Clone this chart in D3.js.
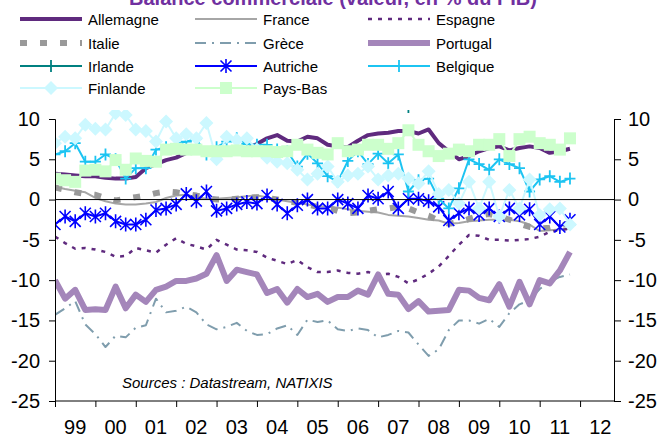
<!DOCTYPE html>
<html>
<head>
<meta charset="utf-8">
<script src="https://cdnjs.cloudflare.com/ajax/libs/d3/7.8.5/d3.min.js"></script>
<style>
  body { margin: 0; background: #fff; }
  svg { display: block; font-family: Arial, "Liberation Sans", sans-serif; }
</style>
</head>
<body>
<script>

// Data: quarterly trade balance, % of GDP, 1999Q1 - 2011Q4
// ==============================================

var firstYear = 1999;
var yearLabels = ["99","00","01","02","03","04","05","06","07","08","09","10","11","12"];
var yTicks = [-25,-20,-15,-10,-5,0,5,10];

var allemagne = [3.2,3.1,3.0,2.9, 2.9,2.7,2.6,2.6, 2.8,3.9,4.4,4.9, 5.2,5.8,6.0,6.2, 5.8,5.6,5.9,6.3, 6.9,7.6,8.0,7.3, 7.2,7.8,7.6,6.8, 6.6,6.5,7.3,8.0, 8.2,8.3,8.5,8.5, 8.2,8.7,7.0,6.0, 5.0,5.4,6.0,6.4, 6.6,6.1,6.4,6.6, 6.4,5.8,6.0,6.3];
var france = [1.6,1.3,1.1,0.9, 0.2,-0.2,-0.5,-0.6, -0.6,-0.5,-0.3,0.2, 0.5,0.6,0.3,0.1, 0.1,0.2,0.3,0.4, 0.5,0.3,0.0,-0.2, -0.4,-0.6,-0.8,-0.9, -1.0,-1.2,-1.4,-1.5, -1.6,-1.9,-2.0,-2.1, -2.3,-2.5,-2.6,-3.0, -2.9,-2.7,-2.6,-2.5, -2.5,-2.5,-2.7,-3.1, -3.9,-3.8,-3.7,-3.6];
var espagne = [-4.6,-5.4,-6.1,-6.0, -6.2,-6.5,-7.1,-7.0, -6.0,-6.3,-6.6,-5.6, -4.8,-5.5,-5.8,-6.2, -5.0,-5.6,-6.2,-6.3, -6.5,-7.2,-7.6,-8.0, -7.5,-8.4,-9.0,-9.0, -8.8,-9.1,-9.2,-9.0, -9.3,-9.2,-9.6,-10.4, -9.9,-9.2,-8.3,-7.0, -5.6,-4.4,-4.5,-5.0, -5.0,-5.1,-5.0,-4.9, -4.6,-4.0,-3.8,-3.6];
var italie = [1.5,1.2,0.9,0.7, 0.6,0.2,-0.1,0.1, 0.3,0.5,0.8,1.0, 0.9,0.7,0.5,0.2, 0.0,0.0,0.1,0.2, 0.3,0.2,0.0,-0.2, -0.4,-0.6,-0.9,-1.0, -1.4,-1.7,-1.6,-1.4, -1.2,-1.1,-0.9,-1.1, -1.6,-2.0,-2.6,-3.0, -2.8,-2.4,-2.0,-1.8, -2.1,-2.5,-3.0,-3.4, -3.6,-3.5,-3.2,-3.0];
var grece = [-14.3,-13.5,-12.6,-15.5, -16.7,-18.3,-16.9,-17.1, -15.9,-15.6,-12.3,-14.0, -13.8,-13.3,-14.0,-15.5, -16.1,-15.8,-15.3,-16.3, -16.8,-16.7,-16.0,-15.6, -16.8,-14.9,-15.2,-15.0, -16.1,-16.3,-16.0,-16.2, -17.1,-16.8,-16.3,-16.5, -18.0,-19.4,-18.6,-16.2, -15.0,-15.0,-15.4,-14.8, -15.8,-14.1,-13.0,-12.5, -11.1,-10.2,-9.6,-9.3];
var portugal = [-10.0,-12.3,-11.2,-13.7, -13.6,-13.7,-10.8,-13.5, -11.8,-12.7,-11.2,-10.8, -10.1,-10.1,-9.8,-9.2, -6.9,-10.1,-8.7,-9.0, -9.3,-11.6,-11.1,-12.8, -11.1,-12.1,-11.7,-12.7, -12.1,-12.1,-11.3,-11.8, -9.3,-11.7,-11.8,-13.6, -12.6,-13.9,-13.8,-13.7, -11.2,-11.3,-12.2,-12.5, -10.5,-13.3,-10.2,-13.0, -10.0,-10.4,-8.8,-6.5];
var irlande = [22,23,24,22, 21,23,24,25, 24,25,26,24, 23,22,21,20, 19,18,18,17, 17,16,16,15, 15,14,14,13, 13,13,12,12, 12,12,12.5,11.5, 12.5,13,14,15, 17,18,19,20, 20,21,22,22, 23,22,23,23];
var autriche = [-3.1,-2.1,-2.7,-1.7, -2.1,-1.7,-2.7,-3.1, -3.1,-2.5,-1.3,-1.1, -0.6,0.7,-0.2,1.0, -1.4,-1.1,-0.6,-0.3, -0.5,0.5,-0.6,-1.7, -0.7,0.0,-1.1,-1.1, 0.0,-0.5,-1.1,0.5, 0.1,1.0,-1.1,0.1, 0.1,-0.2,-0.9,-2.6, -1.7,-1.1,-1.9,-1.1, -2.1,-1.1,-1.9,-1.2, -3.1,-2.1,-3.4,-2.5];
var belgique = [5.6,6.0,7.0,4.7, 4.7,5.6,5.0,2.6, 3.9,3.9,6.2,6.5, 6.9,7.2,7.5,5.6, 6.5,7.2,7.6,6.9, 6.8,6.8,6.2,6.0, 4.1,5.7,4.5,2.9, 2.2,4.8,6.0,4.4, 5.7,4.5,5.6,1.0, 2.4,2.6,0.1,-1.1, 1.4,5.0,4.4,3.7, 5.0,4.4,3.9,1.0, 2.5,2.9,2.2,2.6];
var finlande = [7.0,7.8,7.6,9.3, 8.8,8.7,10.7,10.5, 8.7,8.5,7.2,9.7, 7.6,8.1,7.6,9.5, 5.0,7.8,7.4,7.6, 6.2,5.2,4.7,4.5, 3.7,2.5,3.2,4.1, 2.2,3.0,3.2,4.1, 2.5,3.0,3.2,2.6, 2.0,3.5,0.7,1.2, -0.5,2.2,-1.1,2.2, -2.1,1.2,-1.1,2.5, -1.9,-1.2,-1.1,-3.1];
var paysBas = [2.6,2.4,2.2,3.6, 3.7,3.5,4.9,3.7, 5.1,4.8,4.7,6.2, 6.3,6.2,6.2,6.0, 6.0,6.0,6.1,6.0, 6.0,6.0,5.9,6.0, 6.8,6.2,5.8,5.6, 7.0,6.0,6.2,6.8, 6.8,6.3,7.0,8.6, 6.8,6.0,5.4,5.7, 6.2,6.0,6.8,6.8, 7.5,5.4,7.5,7.8, 7.0,6.8,6.2,7.6];

// Series styles
// ==============================================

var series = [
	{ name: "Allemagne", values: allemagne, color: "#5F2A7E", width: 4 },
	{ name: "France",    values: france,    color: "#A6A6A6", width: 2 },
	{ name: "Espagne",   values: espagne,   color: "#5F2A7E", width: 2.5, dash: "4,6" },
	{ name: "Italie",    values: italie,    color: "#999999", width: 6, dash: "7,13" },
	{ name: "Grèce",     values: grece,     color: "#7F9DAD", width: 2, dash: "11,6,2,6" },
	{ name: "Portugal",  values: portugal,  color: "#A486BA", width: 6 },
	{ name: "Irlande",   values: irlande,   color: "#008080", width: 2, marker: "plus" },
	{ name: "Autriche",  values: autriche,  color: "#0000FF", width: 2, marker: "star" },
	{ name: "Belgique",  values: belgique,  color: "#1CC4F2", width: 2, marker: "plus" },
	{ name: "Finlande",  values: finlande,  color: "#CCF8FF", width: 2, marker: "diamond" },
	{ name: "Pays-Bas",  values: paysBas,   color: "#CCFFCC", width: 2, marker: "square" }
];

(function(){

	var width = 664, height = 439;
	var plotLeft = 55, plotRight = 614, plotTop = 119, plotBottom = 401, clipTop = 110;

	var svg = d3.select("body").append("svg")
		.attr("width", width)
		.attr("height", height);

	var x = d3.scaleLinear().domain([firstYear, 2012.84]).range([plotLeft, plotRight]);
	var y = d3.scaleLinear().domain([-25, 10]).range([plotBottom, plotTop]);

	function t(i){ return firstYear + i * 0.25; }

	// Title (cut at the top, as in the source)
	// ==============================================

	svg.append("text")
		.attr("x", 333).attr("y", 5)
		.attr("text-anchor", "middle")
		.attr("font-size", 20).attr("font-weight", "bold")
		.attr("fill", "#7030A0")
		.text("Balance commerciale (valeur, en % du PIB)");

	// Markers
	// ==============================================

	function drawMarker(g, type, color){
		if (type === "plus") {
			g.append("path").attr("d", "M-5.5,0H5.5M0,-6V6")
				.attr("stroke", color).attr("stroke-width", 1.8).attr("fill", "none");
		} else if (type === "star") {
			g.append("path").attr("d", "M-5.5,-5.5L5.5,5.5M-5.5,5.5L5.5,-5.5M0,-7V7")
				.attr("stroke", color).attr("stroke-width", 1.6).attr("fill", "none");
		} else if (type === "diamond") {
			g.append("path").attr("d", "M0,-7L7,0L0,7L-7,0Z").attr("fill", color);
		} else if (type === "square") {
			g.append("rect").attr("x", -6).attr("y", -6).attr("width", 12).attr("height", 12)
				.attr("fill", color);
		}
	}

	// Plot
	// ==============================================

	svg.append("clipPath").attr("id", "plot-clip")
		.append("rect")
		.attr("x", plotLeft).attr("y", clipTop)
		.attr("width", plotRight - plotLeft).attr("height", plotBottom - clipTop);

	var plot = svg.append("g").attr("clip-path", "url(#plot-clip)");

	var line = d3.line()
		.x(function(d, i){ return x(t(i)); })
		.y(function(d){ return y(d); });

	series.forEach(function(s){
		var g = plot.append("g");
		g.append("path")
			.attr("d", line(s.values))
			.attr("fill", "none")
			.attr("stroke", s.color)
			.attr("stroke-width", s.width)
			.attr("stroke-dasharray", s.dash || null)
			.attr("stroke-linejoin", "round");
		if (s.marker) {
			s.values.forEach(function(v, i){
				var m = g.append("g").attr("transform", "translate(" + x(t(i)) + "," + y(v) + ")");
				drawMarker(m, s.marker, s.color);
			});
		}
	});

	// Axes
	// ==============================================

	svg.append("line")
		.attr("x1", plotLeft).attr("x2", plotRight)
		.attr("y1", y(0)).attr("y2", y(0))
		.attr("stroke", "#000").attr("stroke-width", 1);

	var plain = function(d){ return String(d); };
	var leftAxis = d3.axisLeft(y).tickValues(yTicks).tickSize(6).tickPadding(9).tickFormat(plain);
	var rightAxis = d3.axisRight(y).tickValues(yTicks).tickSize(7).tickPadding(7).tickFormat(plain);
	var years = d3.range(firstYear, firstYear + yearLabels.length);
	var bottomAxis = d3.axisBottom(x).tickValues(years).tickSize(6).tickFormat("");

	function styleAxis(g){
		g.select(".domain").attr("stroke", "#000");
		g.selectAll(".tick line").attr("stroke", "#000");
		g.selectAll(".tick text").attr("font-size", 20).attr("fill", "#000")
			.attr("font-family", "Arial, 'Liberation Sans', sans-serif");
	}

	svg.append("g").attr("transform", "translate(" + plotLeft + ",0)").call(leftAxis).call(styleAxis);
	svg.append("g").attr("transform", "translate(" + plotRight + ",0)").call(rightAxis).call(styleAxis);
	svg.append("g").attr("transform", "translate(0," + plotBottom + ")").call(bottomAxis).call(styleAxis)
		.select(".domain").attr("d", "M" + plotLeft + ",0H" + plotRight);

	// year labels sit between the ticks
	svg.append("g").selectAll("text")
		.data(yearLabels)
		.enter().append("text")
		.attr("x", function(d, i){ return x(firstYear + i + 0.5); })
		.attr("y", 434)
		.attr("text-anchor", "middle")
		.attr("font-size", 20)
		.text(function(d){ return d; });

	svg.append("text")
		.attr("x", 122).attr("y", 388)
		.attr("font-size", 15).attr("font-style", "italic")
		.text("Sources : Datastream, NATIXIS");

	// Legend
	// ==============================================

	var legendCols = [20, 195, 368];
	var legendRows = [19, 43, 66, 88];

	var legend = svg.append("g");

	series.forEach(function(s, i){
		var lx = legendCols[i % 3], ly = legendRows[Math.floor(i / 3)];
		var g = legend.append("g").attr("transform", "translate(" + lx + "," + ly + ")");
		g.append("line")
			.attr("x1", 0).attr("x2", 62)
			.attr("stroke", s.color)
			.attr("stroke-width", s.width)
			.attr("stroke-dasharray", s.dash || null);
		if (s.marker) {
			drawMarker(g.append("g").attr("transform", "translate(31,0)"), s.marker, s.color);
		}
		g.append("text")
			.attr("x", 68).attr("y", 5.5)
			.attr("font-size", 15)
			.text(s.name);
	});

})();

</script>
</body>
</html>
